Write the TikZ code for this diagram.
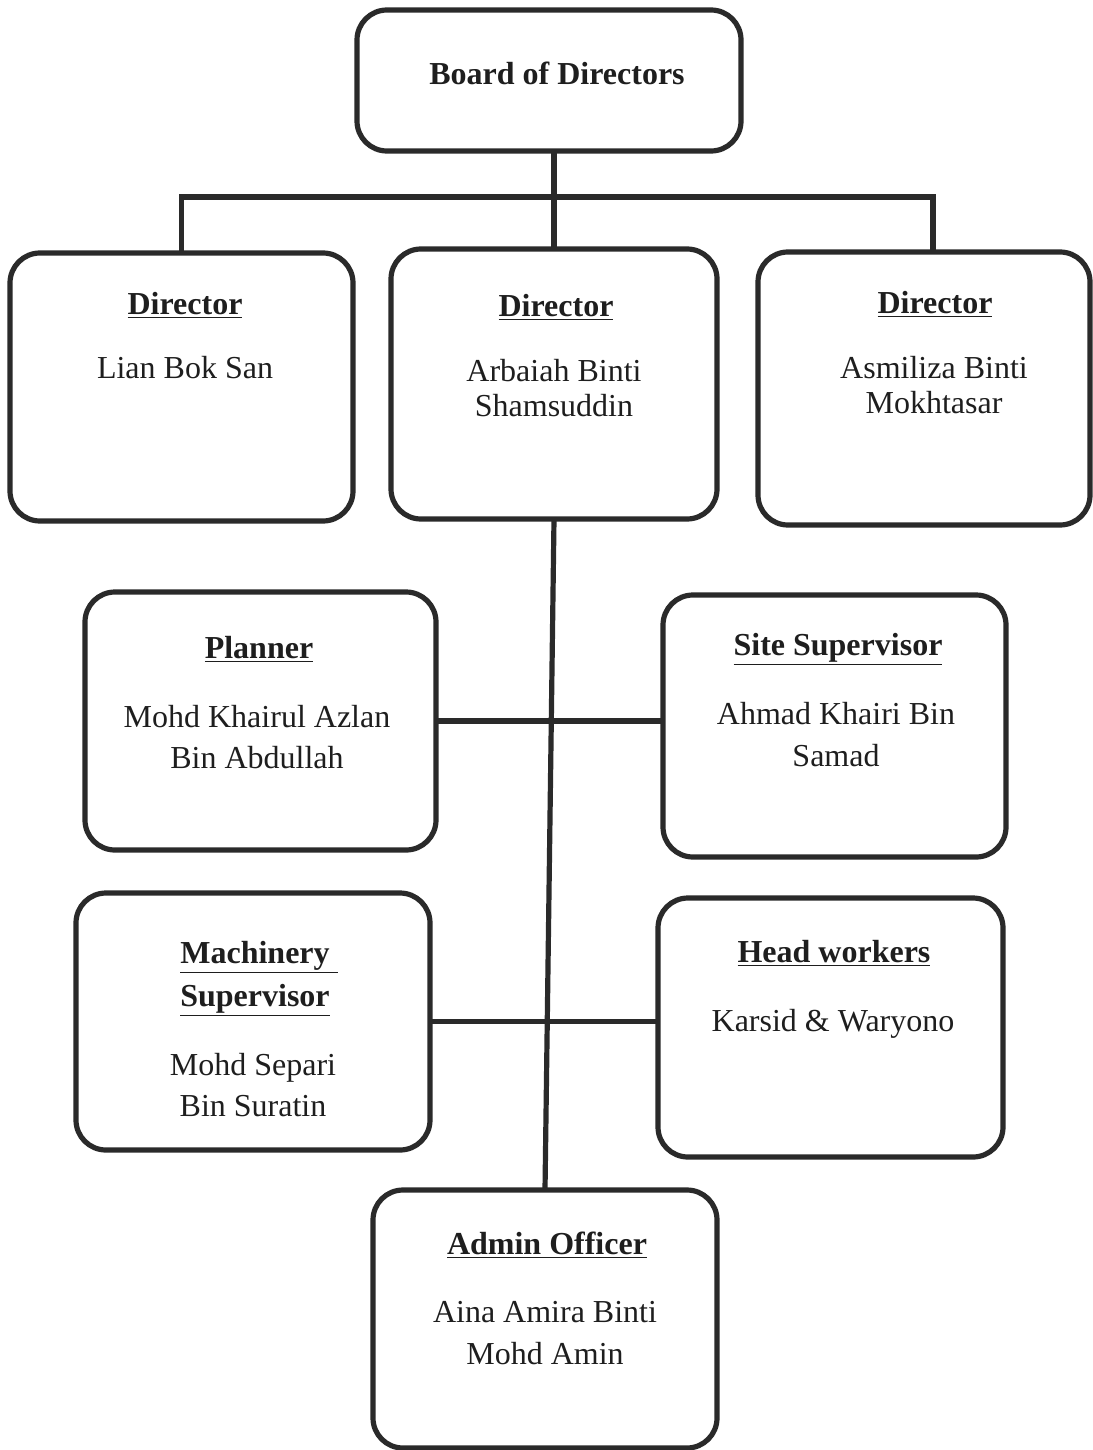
\documentclass[tikz,border=0pt]{standalone}
\usepackage{fontspec}
\setmainfont{Liberation Serif}
\definecolor{ink}{HTML}{2A2A2A}
\definecolor{txt}{HTML}{1E1E1E}
\begin{document}
\begin{tikzpicture}[x=0.5pt,y=-0.5pt,
  box/.style={draw=ink,line width=2.6pt,rounded corners=15pt,inner sep=0pt,outer sep=0pt},
  conn/.style={draw=ink,line width=2.6pt},
  ttl/.style={anchor=base,inner sep=0pt,text=txt,font=\fontsize{16}{18}\selectfont\bfseries},
  nm/.style={anchor=base,inner sep=0pt,text=txt,font=\fontsize{16}{18}\selectfont}]
\useasboundingbox (0,0) rectangle (1092,1450);
% boxes
\node[box,minimum width=192pt,minimum height=70.5pt] (board) at (549,80.5) {};
\node[box,minimum width=171.5pt,minimum height=134pt] (dir1) at (181.5,387) {};
\node[box,minimum width=163pt,minimum height=135pt] (dir2) at (554,384) {};
\node[box,minimum width=166pt,minimum height=136.5pt] (dir3) at (924,388.5) {};
\node[box,minimum width=175.5pt,minimum height=129pt] (planner) at (260.5,721) {};
\node[box,minimum width=171.5pt,minimum height=131pt] (site) at (834.5,726) {};
\node[box,minimum width=177pt,minimum height=128.5pt] (mach) at (253,1021.5) {};
\node[box,minimum width=172.5pt,minimum height=129.5pt] (head) at (830.5,1027.5) {};
\node[box,minimum width=172pt,minimum height=129pt] (admin) at (545,1319) {};
% connectors
\coordinate (hb) at (554,197);
\draw[conn] (dir2.north |- board.south) -- (dir2.north);
\draw[conn] (dir1.north) |- (hb) -| ([xshift=4.5pt]dir3.north);
\draw[conn] (dir2.south) -- (admin.north);
\draw[conn] (planner.east) -- (site.west |- planner.east);
\draw[conn] (mach.east) -- (head.west |- mach.east);
% texts
\node[ttl] (tb) at (557,85) {Board of Directors};
\node[ttl] (t1) at (185,314) {\underline{Director}};
\node[nm] (n1) at (185,378) {Lian Bok San};
\node[ttl] (t2) at (556,316) {\underline{Director}};
\node[nm] (n2a) at (554,381) {Arbaiah Binti};
\node[nm] (n2b) at (554,416) {Shamsuddin};
\node[ttl] (t3) at (935,313) {\underline{Director}};
\node[nm] (n3a) at (934,378) {Asmiliza Binti};
\node[nm] (n3b) at (934,413) {Mokhtasar};
\node[ttl] (tp) at (259,658) {\underline{Planner}};
\node[nm] (npa) at (257,727) {Mohd Khairul Azlan};
\node[nm] (npb) at (257,768) {Bin Abdullah};
\node[ttl] (ts) at (838,655) {\underline{Site Supervisor}};
\node[nm] (nsa) at (836,724) {Ahmad Khairi Bin};
\node[nm] (nsb) at (836,766) {Samad};
\node[ttl] (tma) at (259,963) {\underline{Machinery\ }};
\node[ttl] (tmb) at (255,1006) {\underline{Supervisor}};
\node[nm] (nma) at (253,1075) {Mohd Separi};
\node[nm] (nmb) at (253,1116) {Bin Suratin};
\node[ttl] (th) at (834,962) {\underline{Head workers}};
\node[nm] (nh) at (833,1031) {Karsid \& Waryono};
\node[ttl] (ta) at (547,1254) {\underline{Admin Officer}};
\node[nm] (naa) at (545,1322) {Aina Amira Binti};
\node[nm] (nab) at (545,1364) {Mohd Amin};
\end{tikzpicture}
\end{document}
